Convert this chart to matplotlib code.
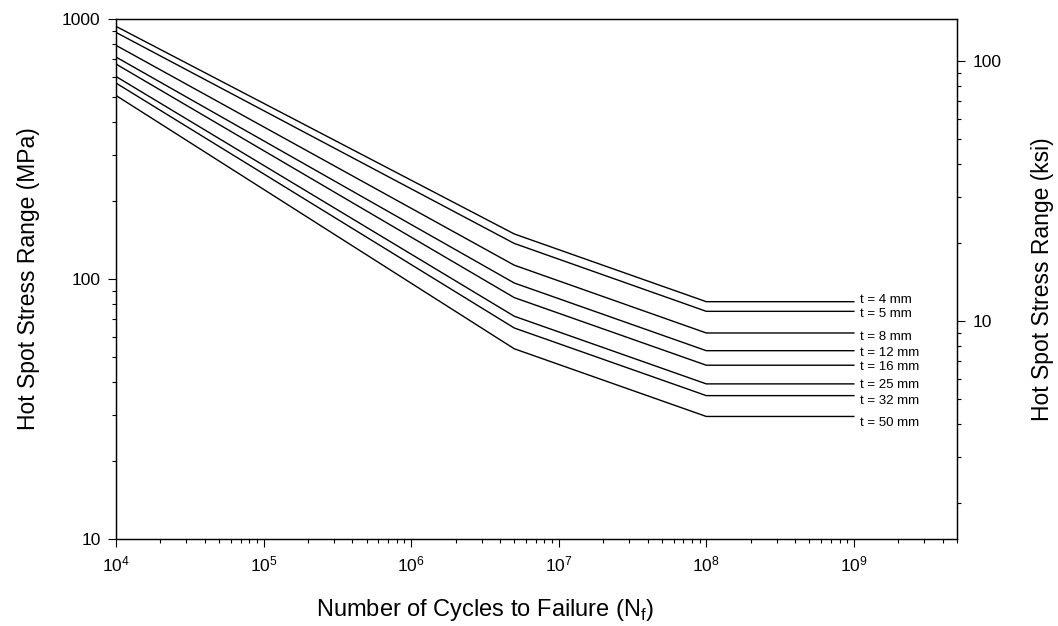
import numpy as np
import matplotlib
matplotlib.use("Agg")
import matplotlib.pyplot as plt
from matplotlib.ticker import LogLocator, FuncFormatter, NullFormatter

plt.rcParams['font.family'] = ['Liberation Sans', 'DejaVu Sans']

## cycle counts where the curves change slope
cycles = [1e4, 5e6, 1e8, 1e9]

## hot spot stress range (MPa) for each plate thickness
thickness = [4, 5, 8, 12, 16, 25, 32, 50]
s_t4 = [937, 149, 81.8, 81.8]
s_t5 = [888, 137, 75.1, 75.1]
s_t8 = [792, 113, 62.0, 62.0]
s_t12 = [714, 96.5, 53.0, 53.0]
s_t16 = [671, 84.8, 46.6, 46.6]
s_t25 = [601, 71.9, 39.5, 39.5]
s_t32 = [567, 64.8, 35.6, 35.6]
s_t50 = [508, 53.9, 29.6, 29.6]
curves = [s_t4, s_t5, s_t8, s_t12, s_t16, s_t25, s_t32, s_t50]
labels = ["t = %d mm" % t for t in thickness]

# little vertical nudges so the labels don't collide (points, + is down)
label_dy = [-1.4, 1.7, 2.7, 1.4, 1.1, 1.0, 3.6, 4.5]

MPA_PER_KSI = 6.895

fig = plt.figure(figsize=(10.58, 6.26), dpi=100)
ax = fig.add_axes([116/1058, 1 - 539/626, (957-116)/1058, (539-19)/626])

for s, lab, dy in zip(curves, labels, label_dy):
    ax.plot(cycles, s, color='black', lw=1.0)
    ax.annotate(lab, xy=(cycles[-1], s[-1]), xytext=(4.3, -dy),
                textcoords='offset points', ha='left', va='center', fontsize=9.5)

ax.set_xscale('log')
ax.set_yscale('log')
ax.set_xlim(1e4, 5e9)
ax.set_ylim(10, 1000)

ax.xaxis.set_minor_locator(LogLocator(base=10, subs=np.arange(2, 10), numticks=20))
ax.xaxis.set_minor_formatter(NullFormatter())
ax.set_xticks([1e4, 1e5, 1e6, 1e7, 1e8, 1e9])
ax.set_xticklabels([r"$\mathdefault{10^{%d}}$" % k for k in range(4, 10)])

ax.yaxis.set_major_locator(LogLocator(base=10, numticks=10))
ax.yaxis.set_minor_locator(LogLocator(base=10, subs=np.arange(2, 10), numticks=10))
ax.yaxis.set_major_formatter(FuncFormatter(lambda v, p: "%g" % v))
ax.yaxis.set_minor_formatter(NullFormatter())

ax.tick_params(which='both', direction='out', top=False, right=False, labelsize=12.5, width=0.8)
ax.tick_params(which='major', length=6, pad=5)
ax.tick_params(which='minor', length=3)

ax.set_ylabel("Hot Spot Stress Range (MPa)", fontsize=16.5)
ax.yaxis.set_label_coords(-0.09, 0.5)
ax.set_xlabel(r"Number of Cycles to Failure (N$_\mathregular{f}$)", fontsize=17)
# centre the axis title on the 10^4 .. 10^9 span
xc = 0.5 * (np.log10(1e9) - 4) / (np.log10(5e9) - 4)
ax.xaxis.set_label_coords(xc, -0.112)

# ksi scale on the right
ax2 = ax.twinx()
ax2.set_yscale('log')
ax2.set_ylim(10 / MPA_PER_KSI, 1000 / MPA_PER_KSI)
ax2.yaxis.set_major_locator(LogLocator(base=10, numticks=10))
ax2.yaxis.set_minor_locator(LogLocator(base=10, subs=np.arange(2, 10), numticks=10))
ax2.yaxis.set_major_formatter(FuncFormatter(lambda v, p: "%g" % v))
ax2.yaxis.set_minor_formatter(NullFormatter())
ax2.tick_params(which='both', direction='out', labelsize=12.5, width=0.8)
ax2.tick_params(which='major', length=6, pad=5)
ax2.tick_params(which='minor', length=3)
ax2.set_ylabel("Hot Spot Stress Range (ksi)", fontsize=16.5)
ax2.yaxis.set_label_coords(1.088, 0.5)

for a in (ax, ax2):
    for sp in a.spines.values():
        sp.set_linewidth(0.9)

fig.savefig("out.png", dpi=100)
